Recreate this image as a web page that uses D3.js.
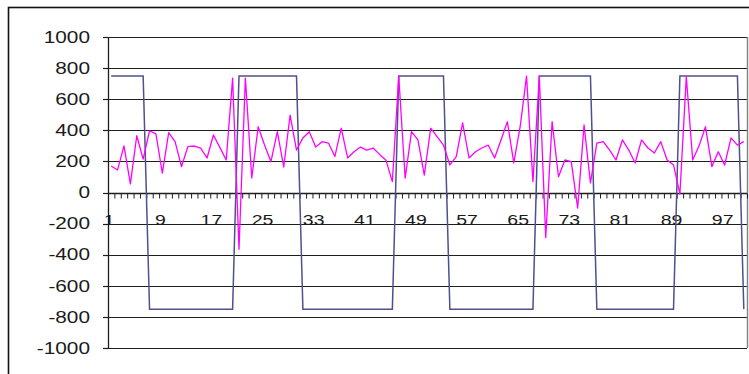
<!DOCTYPE html>
<html>
<head>
<meta charset="utf-8">
<script src="https://cdn.jsdelivr.net/npm/d3@7"></script>
<style>
  html, body { margin: 0; padding: 0; background: #fff; }
  svg { display: block; }
  text { font-family: "Liberation Sans", Arial, sans-serif; fill: #1a1a1a; }
</style>
</head>
<body>
<svg id="chart" width="749" height="374"></svg>
<script>
const categories = [1,2,3,4,5,6,7,8,9,10,11,12,13,14,15,16,17,18,19,20,
  21,22,23,24,25,26,27,28,29,30,31,32,33,34,35,36,37,38,39,40,
  41,42,43,44,45,46,47,48,49,50,51,52,53,54,55,56,57,58,59,60,
  61,62,63,64,65,66,67,68,69,70,71,72,73,74,75,76,77,78,79,80,
  81,82,83,84,85,86,87,88,89,90,91,92,93,94,95,96,97,98,99,100];

const squareSeries = [
  750,750,750,750,750,750,
  -750,-750,-750,-750,-750,-750,-750,-750,-750,-750,-750,-750,-750,-750,
  750,750,750,750,750,750,750,750,750,750,
  -750,-750,-750,-750,-750,-750,-750,-750,-750,-750,-750,-750,-750,-750,-750,
  750,750,750,750,750,750,750,750,
  -750,-750,-750,-750,-750,-750,-750,-750,-750,-750,-750,-750,-750,-750,
  750,750,750,750,750,750,750,750,750,
  -750,-750,-750,-750,-750,-750,-750,-750,-750,-750,-750,-750,-750,
  750,750,750,750,750,750,750,750,750,750,
  -750];

const noisySeries = [
  170,145,300,55,365,215,397,377,125,385,
  327,166,295,299,286,222,370,290,209,735,
  -365,736,93,423,305,198,391,164,498,273,
  351,391,292,327,318,231,414,222,262,292,
  273,286,245,208,70,748,93,391,338,112,
  414,359,305,177,231,447,222,262,286,305,
  222,338,455,190,423,748,70,748,-290,455,
  101,209,198,-100,434,62,318,327,273,209,
  338,273,190,338,286,254,327,209,177,-10,
  745,209,300,423,166,262,177,351,305,327];

const yTicks = [-1000,-800,-600,-400,-200,0,200,400,600,800,1000];
const xLabelEvery = 8;

const svg = d3.select("#chart");

svg.append("rect")
  .attr("x", 8.5).attr("y", 7.5)
  .attr("width", 780).attr("height", 420)
  .attr("fill", "none").attr("stroke", "#111").attr("stroke-width", 1.6);

const pLeft = 108, pRight = 747, pTop = 37, pBottom = 348;

const x = d3.scaleBand().domain(categories).range([pLeft, pRight]).padding(0);
const y = d3.scaleLinear().domain([-1000, 1000]).range([pBottom, pTop]);
const bw = x.bandwidth();
const cx = d => x(d) + bw / 2;

svg.append("g").selectAll("line").data(yTicks).join("line")
  .attr("x1", pLeft).attr("x2", pRight)
  .attr("y1", d => Math.round(y(d)) + 0.5).attr("y2", d => Math.round(y(d)) + 0.5)
  .attr("stroke", "#1e1e1e").attr("stroke-width", 1.2);

svg.append("line")
  .attr("x1", pRight + 0.5).attr("x2", pRight + 0.5)
  .attr("y1", y(1000)).attr("y2", y(-1000))
  .attr("stroke", "#808080").attr("stroke-width", 1.4);

const yAxisG = svg.append("g");
yAxisG.append("line")
  .attr("x1", pLeft + 0.5).attr("x2", pLeft + 0.5)
  .attr("y1", y(1000)).attr("y2", y(-1000))
  .attr("stroke", "#1e1e1e").attr("stroke-width", 1.3);
yAxisG.selectAll("line.tk").data(yTicks).join("line").attr("class", "tk")
  .attr("x1", pLeft - 5).attr("x2", pLeft)
  .attr("y1", d => Math.round(y(d)) + 0.5).attr("y2", d => Math.round(y(d)) + 0.5)
  .attr("stroke", "#1e1e1e").attr("stroke-width", 1.2);
yAxisG.selectAll("text").data(yTicks).join("text")
  .attr("transform", d => `translate(90,${y(d)}) scale(1.3,1)`)
  .attr("text-anchor", "end")
  .attr("dy", "0.36em")
  .attr("font-size", 16)
  .text(d => d);

const y0 = Math.round(y(0)) + 0.5;
svg.append("line")
  .attr("x1", pLeft).attr("x2", pRight)
  .attr("y1", y0).attr("y2", y0)
  .attr("stroke", "#1e1e1e").attr("stroke-width", 1.4);
const boundaries = categories.map(d => x(d)).concat([pRight]);
svg.append("g").selectAll("line").data(boundaries).join("line")
  .attr("x1", d => d + 0.5).attr("x2", d => d + 0.5)
  .attr("y1", y0).attr("y2", y0 + 5)
  .attr("stroke", "#1e1e1e").attr("stroke-width", 1);
svg.append("g").selectAll("text")
  .data(categories.filter((d, i) => i % xLabelEvery === 0))
  .join("text")
  .attr("transform", d => `translate(${cx(d) - 2},${y0 + 31}) scale(1.3,1)`)
  .attr("text-anchor", "middle")
  .attr("font-size", 15)
  .text(d => d);

const lineGen = d3.line().x((d, i) => cx(categories[i])).y(d => y(d));

svg.append("path").datum(squareSeries)
  .attr("d", lineGen)
  .attr("fill", "none")
  .attr("stroke", "#50508c")
  .attr("stroke-width", 1.5);

svg.append("path").datum(noisySeries)
  .attr("d", lineGen)
  .attr("fill", "none")
  .attr("stroke", "#ff00ff")
  .attr("stroke-width", 1.3)
  .attr("stroke-linejoin", "round");
</script>
</body>
</html>
